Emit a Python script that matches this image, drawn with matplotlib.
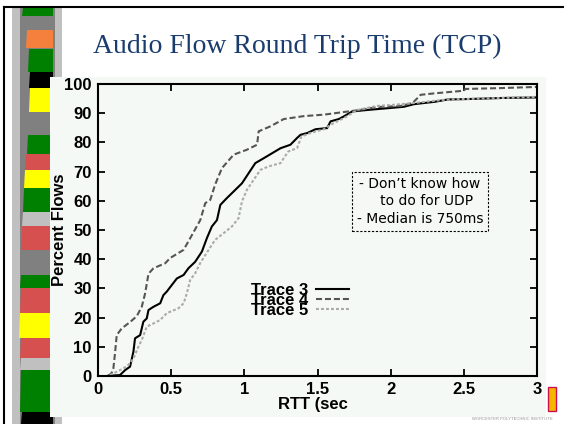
import matplotlib
matplotlib.use('Agg')
import matplotlib.pyplot as plt
from matplotlib.patches import Rectangle, Polygon

# RTT CDF curves (x in sec, y in percent of flows)
trace3_x = [0.07, 0.15, 0.185, 0.219, 0.242, 0.253, 0.288, 0.31, 0.333, 0.345,
            0.379, 0.425, 0.447, 0.47, 0.505, 0.539, 0.585, 0.618, 0.664, 0.71,
            0.744, 0.778, 0.813, 0.836, 0.88, 0.927, 0.984, 1.03, 1.075, 1.133,
            1.19, 1.247, 1.315, 1.36, 1.384, 1.43, 1.486, 1.566, 1.589, 1.646,
            1.68, 1.737, 1.84, 2.0, 2.09, 2.16, 2.3, 2.39, 2.57, 2.75, 3.0]
trace3_y = [0.1, 0.3, 2.0, 3.2, 8.3, 12.9, 14.0, 18.6, 19.7, 22.6,
            23.7, 24.9, 27.7, 28.9, 31.2, 33.4, 34.6, 36.9, 39.1, 42.6,
            47.2, 51.2, 53.4, 58.6, 60.9, 63.2, 66.0, 69.5, 72.9, 74.6,
            76.3, 78.0, 79.2, 81.5, 82.6, 83.2, 84.5, 84.9, 87.2, 88.0,
            88.9, 90.6, 91.1, 91.8, 92.2, 93.1, 93.9, 94.7, 94.9, 95.2, 95.4]

trace4_x = [0.07, 0.093, 0.105, 0.116, 0.128, 0.162, 0.22, 0.265, 0.299, 0.322,
            0.345, 0.379, 0.459, 0.493, 0.585, 0.63, 0.699, 0.733, 0.767, 0.8,
            0.847, 0.927, 1.018, 1.087, 1.098, 1.178, 1.27, 1.406, 1.543, 1.68,
            1.772, 1.908, 2.07, 2.15, 2.205, 2.3, 2.5, 2.51, 2.75, 3.0]
trace4_y = [0.0, 1.0, 2.6, 7.7, 14.0, 16.3, 18.5, 20.5, 23.7, 28.3,
            35.0, 36.9, 38.6, 40.4, 43.2, 47.2, 53.4, 59.2, 60.3, 65.5,
            71.2, 75.8, 77.5, 79.2, 83.8, 85.5, 88.0, 89.0, 89.5, 90.4,
            91.0, 92.1, 92.5, 93.5, 96.3, 96.8, 97.7, 98.3, 98.6, 99.0]

trace5_x = [0.082, 0.174, 0.208, 0.242, 0.276, 0.299, 0.333, 0.379, 0.425, 0.47,
            0.55, 0.585, 0.607, 0.63, 0.664, 0.699, 0.756, 0.8, 0.858, 0.915,
            0.96, 0.984, 1.018, 1.064, 1.11, 1.167, 1.247, 1.30, 1.36, 1.39,
            1.45, 1.543, 1.61, 1.68, 1.772, 1.908, 2.0, 2.14, 2.39, 2.75, 3.0]
trace5_y = [0.3, 2.6, 3.8, 6.0, 10.0, 12.3, 16.9, 18.0, 19.2, 21.5,
            23.2, 24.9, 28.3, 32.9, 35.2, 38.7, 43.2, 46.6, 48.9, 51.2,
            54.0, 59.8, 63.8, 67.2, 70.6, 71.8, 72.9, 76.9, 78.0, 82.0,
            83.2, 84.5, 86.6, 88.3, 91.1, 92.5, 92.8, 93.4, 94.7, 95.2, 95.6]

xticks = [0, 0.5, 1, 1.5, 2, 2.5, 3]
xtick_labels = ['0', '0.5', '1', '1.5', '2', '2.5', '3']
yticks = list(range(0, 101, 10))

note_text = '- Don\u2019t know how\n   to do for UDP\n- Median is 750ms'

# sidebar blocks of the slide template: (top, bottom, left, colour)
side_blocks = [(8, 16, 23, '#008000'), (30, 48, 27, '#f5803e'), (49, 72, 29, '#008000'),
               (72, 88, 30, '#000000'), (88, 112, 30, '#ffff00'), (135, 154, 28, '#008000'),
               (154, 170, 26, '#d65050'), (170, 188, 25, '#ffff00'), (188, 212, 24, '#008000'),
               (212, 226, 23, '#c0c0c0'), (226, 250, 22, '#d65050'), (275, 288, 21, '#008000'),
               (288, 313, 21, '#d65050'), (313, 338, 20, '#ffff00'), (338, 358, 21, '#d65050'),
               (358, 370, 21, '#c0c0c0'), (370, 412, 21, '#008000'), (412, 424, 22, '#000000')]

plt.rcParams['font.family'] = 'Liberation Sans'

fig = plt.figure(figsize=(5.64, 4.24), dpi=100)
fig.patch.set_facecolor('white')

# slide background in pixel coordinates
bg = fig.add_axes([0, 0, 1, 1])
bg.set_xlim(0, 564)
bg.set_ylim(424, 0)
bg.axis('off')
bg.plot([4, 4], [7, 424], color='black', lw=1.5)
bg.plot([4, 564], [7, 7], color='black', lw=1.5)
bg.add_patch(Rectangle((12, 8), 50, 416, color='#c0c0c0', lw=0))
bg.add_patch(Rectangle((20, 8), 35, 416, color='#808080', lw=0))
for top, bot, left, col in side_blocks:
    bg.add_patch(Polygon([(left, top), (53, top), (53, bot), (left - 1, bot)],
                         closed=True, color=col, lw=0))
bg.add_patch(Rectangle((50, 77), 496, 340, color='#f5f9f5', lw=0))
bg.text(297, 53, 'Audio Flow Round Trip Time (TCP)', family='Liberation Serif',
        fontsize=20, color='#1a3d6d', ha='center', va='baseline')
bg.text(59, 230, 'Percent Flows', rotation=90, ha='center', va='center',
        fontsize=12, fontweight='bold')
bg.text(278, 404, 'RTT (sec', ha='left', va='center', fontsize=12, fontweight='bold')
bg.add_patch(Rectangle((548, 387), 8, 24, facecolor='#f7b500', edgecolor='#c8104f', lw=1))
bg.text(512, 419, 'WORCESTER POLYTECHNIC INSTITUTE', ha='center', va='center',
        fontsize=3, color='#909090')

ax = fig.add_axes([98 / 564, 1 - 376 / 424, 439 / 564, 292 / 424])
ax.set_facecolor('none')
ax.plot(trace3_x, trace3_y, color='black', lw=1.5, label='Trace 3')
ax.plot(trace4_x, trace4_y, color='#555555', lw=1.5, dashes=(2.9, 1.4), label='Trace 4')
ax.plot(trace5_x, trace5_y, color='#aaaaaa', lw=1.5, dashes=(1.4, 1.0), label='Trace 5')

ax.set_xlim(0, 3)
ax.set_ylim(0, 100)
ax.set_xticks(xticks)
ax.set_xticklabels(xtick_labels)
ax.set_yticks(yticks)
ax.tick_params(direction='in', top=True, right=True, length=5, width=1.3,
               labelsize=12, pad=4.5)
for lab in ax.get_xticklabels() + ax.get_yticklabels():
    lab.set_fontweight('bold')
for sp in ax.spines.values():
    sp.set_linewidth(1.5)

leg = ax.legend(loc='center', bbox_to_anchor=(0.461, 0.259), frameon=False,
                markerfirst=False, handlelength=2.0, handletextpad=0.45,
                labelspacing=-0.3, borderpad=0,
                prop={'weight': 'bold', 'size': 12})

ax.text(2.199, 59.8, note_text, ha='center', va='center', fontsize=10,
        family='DejaVu Sans', linespacing=1.35,
        bbox=dict(boxstyle='square,pad=0.35', facecolor='none', edgecolor='black',
                  lw=0.8, linestyle=(0, (2, 1.5))))

fig.savefig('out.png', dpi=100)
